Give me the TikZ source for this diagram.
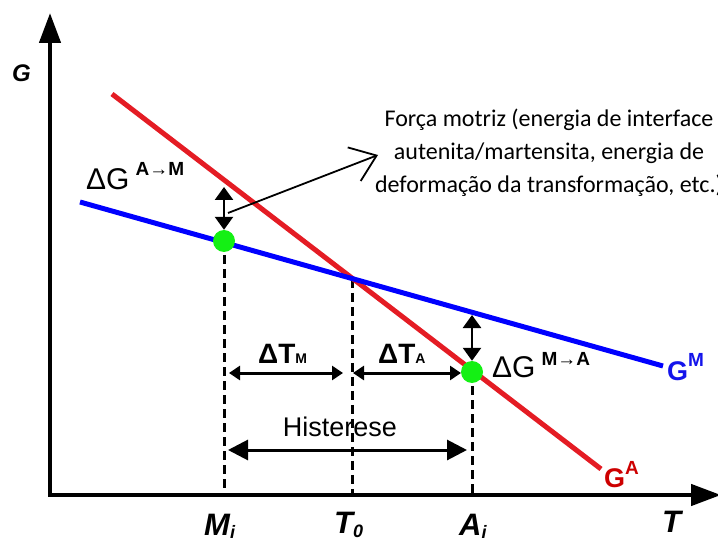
\documentclass[tikz,border=0pt]{standalone}
\usepackage{fontspec}
\setmainfont{Liberation Sans}
\newfontfamily\calfont{Carlito}
\usetikzlibrary{arrows.meta}
\definecolor{gred}{RGB}{228,28,36}
\definecolor{gredtxt}{RGB}{205,0,0}
\definecolor{gblue}{RGB}{0,0,255}
\definecolor{gbluetxt}{RGB}{20,20,235}
\definecolor{ggreen}{RGB}{20,240,20}
\newcommand\setfs[1]{\fontsize{#1}{#1}\selectfont}
\tikzset{
 axisline/.style={line width=4.5pt, {Triangle[length=30pt,width=21pt]}-{Triangle[length=30pt,width=21pt]}},
 curve/.style={line width=5pt},
 guide/.style={line width=3pt, dash pattern=on 9pt off 5pt},
 dbl/.style={line width=2.5pt, {Triangle[length=13pt,width=18pt]}-{Triangle[length=13pt,width=18pt]}},
 span/.style={line width=3pt, {Triangle[length=11pt,width=14pt]}-{Triangle[length=11pt,width=14pt]}},
 bigspan/.style={line width=3pt, {Triangle[length=20pt,width=20pt]}-{Triangle[length=20pt,width=20pt]}},
 dot/.style={circle, fill=ggreen, minimum size=22pt, inner sep=0pt},
 lbl/.style={inner sep=0pt, anchor=base west},
 lblc/.style={inner sep=0pt, anchor=base},
 leader/.style={line width=1.8pt, -{Straight Barb[length=24pt,width=36pt,line width=1.8pt]}},
}
\begin{document}
\begin{tikzpicture}[x=1pt,y=-1pt]
\useasboundingbox (0,0) rectangle (718,540);
\clip (0,0) rectangle (718,540);
% key coordinates
\coordinate (ra) at (112,94);
\coordinate (rb) at (601,469);
\coordinate (ba) at (80,202);
\coordinate (bb) at (663,366);
\coordinate (X) at (intersection of ra--rb and ba--bb);
\coordinate (O) at (50,495);
\coordinate (ytip) at (50,13);
\coordinate (xtip) at (721,495);
\coordinate (cM) at (224,241);
\coordinate (cA) at (472,372);
\coordinate (tMi) at (224,495);
\coordinate (tT0) at (X |- O);
\coordinate (tAi) at (472,495);
% axes
\draw[axisline] (ytip) -- (O) -- (xtip);
% guides
\draw[guide] (cM) -- (tMi);
\draw[guide] (X) -- (tT0);
\draw[guide] (cA) -- (tAi);
% curves
\draw[curve, gred] (ra) -- (rb);
\draw[curve, gblue] (ba) -- (bb);
% dots
\node[dot] (dM) at (cM) {};
\node[dot] (dA) at (cA) {};
% driving force arrows
\coordinate (gM) at (224,187);
\draw[dbl] (gM) -- (dM.north);
\coordinate (gA) at (472,315);
\draw[dbl] (gA) -- (dA.north);
% spans
\coordinate (sM1) at (229,373);
\coordinate (sM2) at (343,373);
\coordinate (sA1) at (353,373);
\coordinate (sA2) at (461,373);
\draw[span] (sM1) -- (sM2);
\draw[span] (sA1) -- (sA2);
\coordinate (h1) at (228,450);
\coordinate (h2) at (467,450);
\draw[bigspan] (h1) -- (h2);
% leader
\coordinate (ls) at (228,213);
\coordinate (lt) at (378,155);
\draw[leader] (ls) -- (lt);
\node[align=center, inner sep=0pt, font=\calfont\fontsize{24}{33}\selectfont] (fm) at (549,153)
 {Força motriz (energia de interface\\autenita/martensita, energia de\\deformação da transformação, etc.)};
% labels
\node[lbl] (gy) at (12,82) {\setfs{24}\bfseries\itshape G};
\node[lbl] (dgam) at (86,190) {\setfs{30}ΔG\hspace{6pt}\raisebox{14pt}{\setfs{19}\bfseries A→M}};
\node[lbl] (dgma) at (492,377) {\setfs{30}ΔG\hspace{6pt}\raisebox{12pt}{\setfs{19}\bfseries M→A}};
\node[lbl] (dtm) at (258,363) {\setfs{28}\bfseries ΔT\setfs{14}M};
\node[lbl] (dta) at (378,363) {\setfs{28}\bfseries ΔT\setfs{14}A};
\node[lblc] (hist) at (340,436) {\setfs{27}Histerese};
\node[lbl, text=gbluetxt] (lgm) at (667,380) {\setfs{27}\bfseries G\raisebox{14pt}{\setfs{19}M}};
\node[lbl, text=gredtxt] (lga) at (604,487) {\setfs{27}\bfseries G\raisebox{13pt}{\setfs{19}A}};
\node[lbl] (lmi) at (204,535) {\setfs{31}\bfseries\itshape M\raisebox{-3pt}{\setfs{18}i}};
\node[lbl] (lt0) at (334,533) {\setfs{31}\bfseries\itshape T\raisebox{-4pt}{\setfs{18}0}};
\node[lbl] (lai) at (459,535) {\setfs{31}\bfseries\itshape A\raisebox{-3pt}{\setfs{18}i}};
\node[lbl] (lT) at (662,532) {\setfs{31}\bfseries\itshape T};
\end{tikzpicture}
\end{document}
